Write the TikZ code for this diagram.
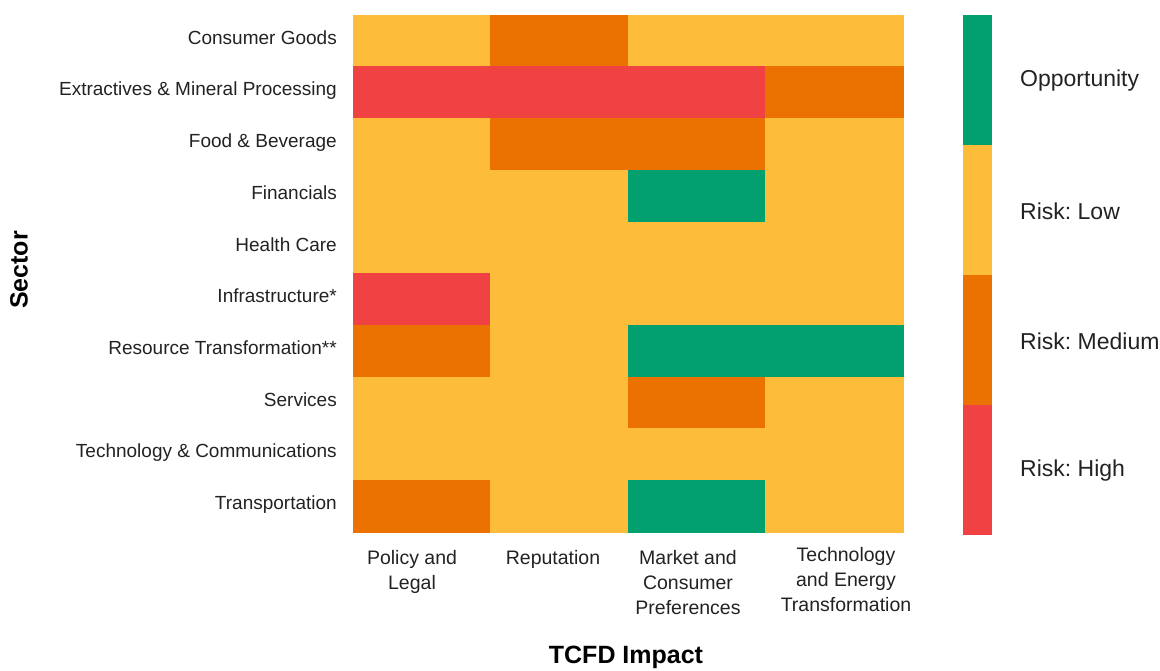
\documentclass[tikz,border=0pt]{standalone}
\usepackage{fontspec}
\setmainfont{Liberation Sans}
\frenchspacing
\definecolor{opp}{HTML}{02A06E}
\definecolor{lowrisk}{HTML}{FDBD3A}
\definecolor{medrisk}{HTML}{EB7100}
\definecolor{highrisk}{HTML}{F04242}
\definecolor{ink}{HTML}{222222}

\begin{document}
\begin{tikzpicture}[x=1pt,y=-1pt,
  cell/.style={rectangle,minimum width=137.5pt,minimum height=51.7pt,inner sep=0pt,outer sep=0pt,line width=0.6pt},
  rowlabel/.style={anchor=east,inner sep=0pt,text height=14pt,text depth=4pt,text=ink,font=\fontsize{19}{23}\selectfont},
  collabel/.style={anchor=north,inner sep=0pt,align=center,text=ink,font=\fontsize{19.5}{25}\selectfont},
  keylabel/.style={anchor=west,inner sep=0pt,text=ink,font=\fontsize{23}{27}\selectfont},
  axistitle/.style={inner sep=0pt,text=black,font=\bfseries\fontsize{25}{30}\selectfont}]
\useasboundingbox (0,0) rectangle (1160,670);

% heatmap
\foreach \sector/\pl/\rep/\mkt/\tech [count=\i] in {
  Consumer Goods/lowrisk/medrisk/lowrisk/lowrisk,
  Extractives \& Mineral Processing/highrisk/highrisk/highrisk/medrisk,
  Food \& Beverage/lowrisk/medrisk/medrisk/lowrisk,
  Financials/lowrisk/lowrisk/opp/lowrisk,
  Health Care/lowrisk/lowrisk/lowrisk/lowrisk,
  Infrastructure*/highrisk/lowrisk/lowrisk/lowrisk,
  Resource Transformation**/medrisk/lowrisk/opp/opp,
  Services/lowrisk/lowrisk/medrisk/lowrisk,
  Technology \& Communications/lowrisk/lowrisk/lowrisk/lowrisk,
  Transportation/medrisk/lowrisk/opp/lowrisk}{
  \node[rowlabel] (s\i) at (337,{15+51.7*\i-27.5}) {\sector};
  \foreach \col [count=\j] in {\pl,\rep,\mkt,\tech}
    \node[cell,fill=\col,draw=\col] (c\i-\j) at ({353+137.5*\j-68.75},{15+51.7*\i-25.85}) {};
}

% impact labels
\node[collabel] (policy) at (412,550) {Policy and\\Legal};
\node[collabel] (reput) at (553,550) {Reputation};
\node[collabel] (market) at (688,550) {Market and\\Consumer\\Preferences};
\node[collabel] (techn) at (846,547) {Technology\\and Energy\\Transformation};

% legend
\foreach \col/\txt [count=\k] in {opp/Opportunity,lowrisk/Risk: Low,medrisk/Risk: Medium,highrisk/Risk: High}{
  \fill[\col] (963,{15+130*(\k-1)}) rectangle (992,{15+130*\k});
  \node[keylabel] (k\k) at (1020,{15+130*\k-64}) {\txt};
}

% axis titles
\node[axistitle,rotate=90] (sector) at (19,270) {Sector};
\node[axistitle] (impact) at (626,657) {TCFD Impact};
\end{tikzpicture}
\end{document}
